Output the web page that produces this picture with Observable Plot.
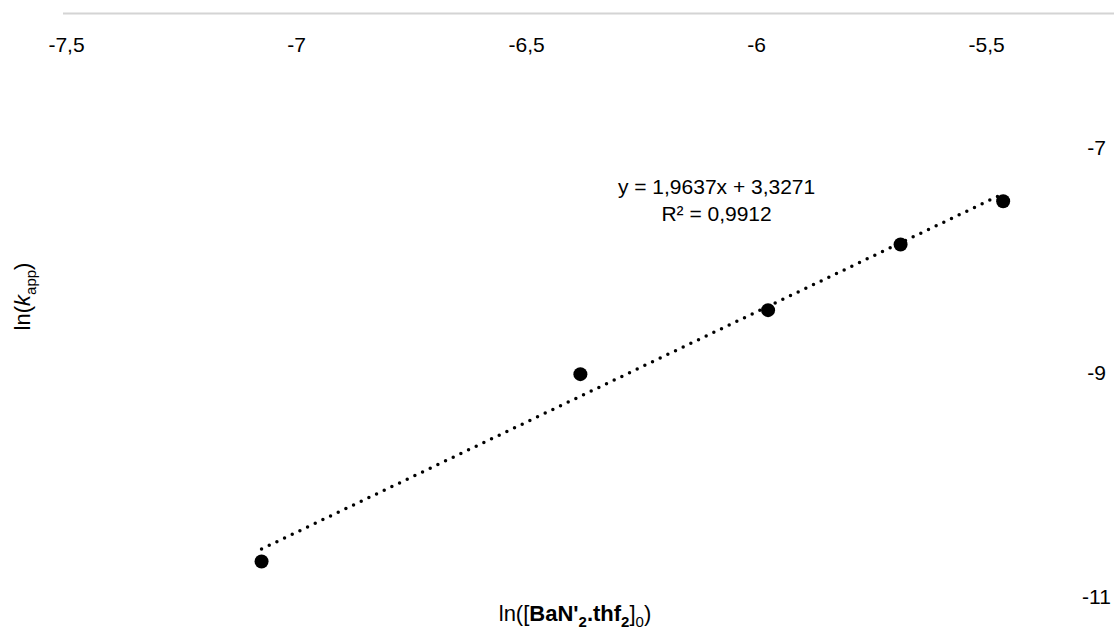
<!DOCTYPE html>
<html><head><meta charset="utf-8">
<script src="https://cdn.jsdelivr.net/npm/d3@7"></script>
<script src="https://cdn.jsdelivr.net/npm/@observablehq/plot@0.6"></script>
<style>body{margin:0;background:#fff;}</style>
</head><body><div id="chart"></div>
<script>
// Data
const lnConc = [-7.076, -6.383, -5.975, -5.687, -5.464];
const lnK = [-10.68, -9.01, -8.44, -7.855, -7.47];
const xTicks = [-7.5, -7, -6.5, -6, -5.5];
const yTicks = [-7, -9, -11];
const slope = 1.9637;
const intercept = 3.3271;
const eqLines = ["y = 1,9637x + 3,3271", "R² = 0,9912"];
const xTitle = "ln([BaN'2.thf2]0)";
const yTitle = "ln(kapp)";

const points = lnConc.map((x, i) => ({x, y: lnK[i]}));
const xmin = d3.min(lnConc), xmax = d3.max(lnConc);
const trend = [xmin, xmax].map(x => ({x, y: slope * x + intercept}));
const fmt = d => String(d).replace(".", ",");

const FONT = "Liberation Sans, Arial, sans-serif";
const FS = 21;
const chart = Plot.plot({
  width: 1114,
  height: 632,
  marginLeft: 63,
  marginRight: 0,
  marginTop: 13,
  marginBottom: 0,
  style: {fontFamily: FONT, fontSize: FS + "px", color: "#000", background: "#fff"},
  x: {domain: [-7.5, -5.222], range: [66, 1114], axis: null},
  y: {domain: [-11.312, -5.797], axis: null},
  marks: [
    Plot.ruleY([-5.797], {stroke: "#d4d4d4", strokeWidth: 2}),
    Plot.line(trend, {x: "x", y: "y", stroke: "#000", strokeWidth: 3.5, strokeDasharray: "0 8.5", strokeLinecap: "round"}),
    Plot.dot(points, {x: "x", y: "y", r: 7, fill: "#000", stroke: null}),
    Plot.text(xTicks, {x: d => d, frameAnchor: "top", textAnchor: "middle", lineAnchor: "middle", dy: 32, text: fmt, fontSize: FS, fill: "#000"}),
    Plot.text(yTicks, {y: d => d, frameAnchor: "right", textAnchor: "middle", lineAnchor: "middle", dx: -18, text: d => String(d), fontSize: FS, fill: "#000"}),
    Plot.text([eqLines.join("\n")], {x: -6.087, y: -7.45, textAnchor: "middle", lineAnchor: "middle", text: d => d, fontSize: FS, lineHeight: 1.28, fill: "#000"}),
    Plot.text([xTitle], {frameAnchor: "bottom", textAnchor: "middle", lineAnchor: "middle", dx: -14, dy: -19, text: d => d, fontSize: 22, fill: "#000"}),
    Plot.text([yTitle], {frameAnchor: "left", textAnchor: "middle", lineAnchor: "middle", dx: -41, dy: -26.5, rotate: -90, text: d => d, fontSize: 22, fill: "#000"})
  ]
});
document.getElementById("chart").appendChild(chart);

// Rich text formatting (bold, italic, subscripts) for axis titles
function richify(str, parts, subSize, subShift) {
  d3.select(chart).selectAll("text").each(function() {
    if (this.textContent !== str) return;
    const t = d3.select(this);
    t.text(null);
    let shift = 0;
    for (const p of parts) {
      const target = p.sub ? subShift : 0;
      const ts = t.append("tspan").text(p.t);
      if (p.bold) ts.attr("font-weight", "bold");
      if (p.italic) ts.attr("font-style", "italic");
      if (p.sub) ts.attr("font-size", subSize + "px");
      if (target !== shift) { ts.attr("dy", target - shift); shift = target; }
    }
  });
}
richify(xTitle, [
  {t: "ln(["}, {t: "BaN'", bold: true}, {t: "2", bold: true, sub: true},
  {t: ".thf", bold: true}, {t: "2", bold: true, sub: true},
  {t: "]"}, {t: "0", sub: true}, {t: ")"}
], 15, 6);
richify(yTitle, [
  {t: "ln("}, {t: "k", italic: true}, {t: "app", sub: true}, {t: ")"}
], 15, 6);
</script>
</body></html>
